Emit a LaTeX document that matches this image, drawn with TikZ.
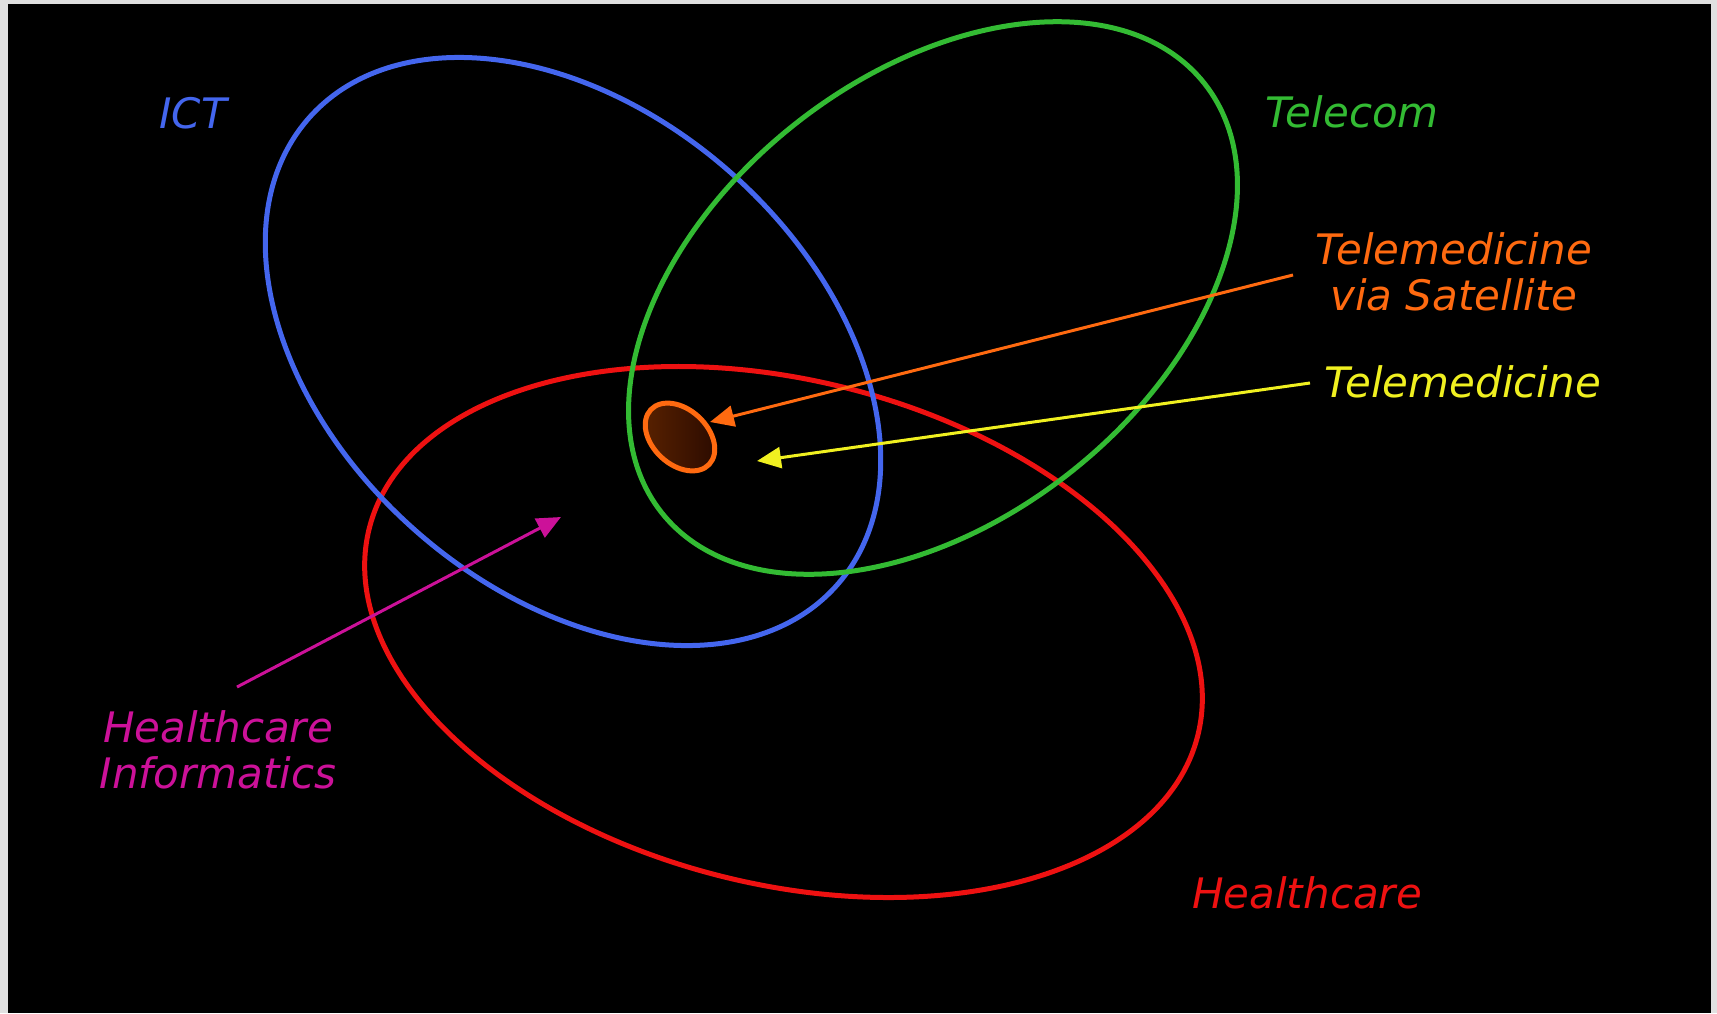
\documentclass[tikz,border=0pt]{standalone}
\usepackage{fontspec}
\setmainfont{DejaVu Sans}
\usetikzlibrary{arrows.meta,shapes.geometric}
\definecolor{frame}{HTML}{E0E0E0}
\definecolor{ictblue}{HTML}{4466EE}
\definecolor{telgreen}{HTML}{33BB33}
\definecolor{hcred}{HTML}{EE1111}
\definecolor{satorange}{HTML}{FF6A10}
\definecolor{tmyellow}{HTML}{F0F020}
\definecolor{himagenta}{HTML}{CC1199}
\definecolor{brownlight}{HTML}{5A2200}
\definecolor{browndark}{HTML}{2A0A00}
\tikzset{
  ring/.style={ellipse, inner sep=0pt, line width=5pt},
  lab/.style={font=\fontsize{42}{46}\selectfont\itshape, inner sep=0pt, anchor=base, align=center},
  pointer/.style={line width=3pt, -{Triangle[length=24pt,width=21pt]}}
}
\begin{document}
\begin{tikzpicture}[x=1pt,y=-1pt]
\useasboundingbox (0,0) rectangle (1717,1013);
\fill[frame] (0,0) rectangle (1717,1013);
\fill[black] (8,4) rectangle (1711,1013);

% ellipses
\node[ring, draw=hcred, minimum width=854pt, minimum height=504pt, rotate=-14] (hc) at (783.5,632) {};
\node[ring, draw=ictblue, minimum width=705pt, minimum height=477pt, rotate=-41.5] (ict) at (573,351.5) {};
\node[ring, draw=telgreen, minimum width=692pt, minimum height=444pt, rotate=38.3] (tel) at (933,298) {};
\node[ring, draw=satorange, line width=5pt, minimum width=80pt, minimum height=55pt, rotate=-43,
      left color=brownlight, right color=browndark] (sat) at (680,437) {};

% labels
\node[lab, text=ictblue] (ictlab) at (193,128) {ICT};
\node[lab, text=telgreen] (tellab) at (1352,127) {Telecom};
\node[lab, text=satorange] (satlab) at (1454,310) {Telemedicine\\via Satellite};
\node[lab, text=tmyellow] (tmlab) at (1463,397) {Telemedicine};
\node[lab, text=himagenta] (hilab) at (218,788) {Healthcare\\Informatics};
\node[lab, text=hcred] (hclab) at (1307,908) {Healthcare};

% pointers
\coordinate (satstart) at (1293,275);
\coordinate (sattip) at (710,422);
\coordinate (tmstart) at (1310,383);
\coordinate (tmtip) at (757,461);
\coordinate (histart) at (237,687);
\coordinate (hitip) at (561,517);
\draw[pointer, satorange] (satstart) -- (sattip);
\draw[pointer, tmyellow] (tmstart) -- (tmtip);
\draw[pointer, himagenta] (histart) -- (hitip);
\end{tikzpicture}
\end{document}
